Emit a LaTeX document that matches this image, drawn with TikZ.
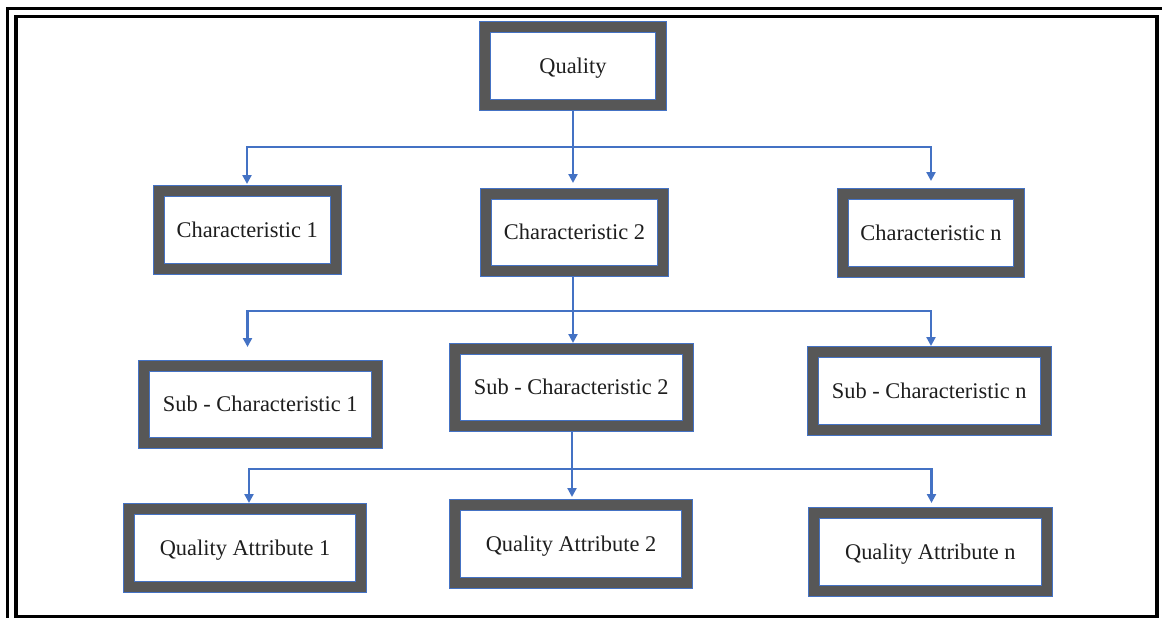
\documentclass[tikz,border=0pt]{standalone}
\usepackage{fontspec}
\setmainfont{Liberation Serif}
\usetikzlibrary{arrows.meta}

\definecolor{framegray}{HTML}{575757}
\definecolor{linkblue}{HTML}{4472C4}
\definecolor{inkgray}{HTML}{1E1E1E}

\tikzset{
  qbox/.style={draw=framegray, line width=11pt, fill=white, outer sep=5.5pt,
    inner sep=0pt, minimum height=77.5pt, text=inkgray,
    font=\fontsize{22.4pt}{26pt}\selectfont, text height=14.8pt, text depth=0pt},
  narrow/.style={minimum width=176.5pt},
  wide/.style={minimum width=232.5pt},
  rim/.style={draw=linkblue, line width=0.8pt},
  link/.style={draw=linkblue, line width=2.6pt},
  arr/.style={link, -{Triangle[width=9pt,length=9pt]}},
  frameline/.style={draw=black, line width=3.5pt},
}

% a framed box: style, name, x, y, text
\newcommand\qualitybox[5]{%
  \node[qbox,#1] (#2) at (#3,#4) {#5};
  \draw[rim] (#2.north west) rectangle (#2.south east);
  \draw[rim] ([shift={(11pt,-11pt)}]#2.north west) rectangle ([shift={(-11pt,11pt)}]#2.south east);
}

\begin{document}
\begin{tikzpicture}[x=1pt, y=-1pt]
  \useasboundingbox (0,0) rectangle (1162,618);

  % double page frame
  \draw[frameline] (7.5,640) -- (7.5,8.5) -- (1180,8.5);
  \draw[frameline] (15.8,16.5) rectangle (1157,617);

  % boxes
  \qualitybox{narrow}{q}{573}{65.9}{Quality}
  \qualitybox{narrow}{c1}{247.2}{230}{Characteristic 1}
  \qualitybox{narrow}{c2}{574.5}{232.2}{Characteristic 2}
  \qualitybox{narrow}{cn}{931}{232.8}{Characteristic n}
  \qualitybox{wide}{s1}{260.3}{404.2}{Sub - Characteristic 1}
  \qualitybox{wide}{s2}{571.2}{387.5}{Sub - Characteristic 2}
  \qualitybox{wide}{sn}{929.2}{390.8}{Sub - Characteristic n}
  \qualitybox{wide}{a1}{245}{548}{Quality Attribute 1}
  \qualitybox{wide}{a2}{571}{544}{Quality Attribute 2}
  \qualitybox{wide}{an}{930.3}{551.7}{Quality Attribute n}

  % junctions and arrow tips
  \coordinate (j1) at (573,147);
  \coordinate (t11) at (247,184);
  \coordinate (t12) at (573,183);
  \coordinate (t13) at (931,181);

  \coordinate (j2) at (573,311);
  \coordinate (t21) at (247.5,347);
  \coordinate (t22) at (573,343);
  \coordinate (t23) at (931,346);

  \coordinate (j3) at (572,469);
  \coordinate (t31) at (249,503);
  \coordinate (t32) at (572,497);
  \coordinate (t33) at (931.5,503);

  % Quality -> characteristics
  \draw[arr] (q.south -| j1) -- (t12);
  \draw[arr] (j1) -| (t11);
  \draw[arr] (j1) -| (t13);

  % Characteristic 2 -> sub-characteristics
  \draw[arr] (c2.south -| j2) -- (t22);
  \draw[arr] (j2) -| (t21);
  \draw[arr] (j2) -| (t23);

  % Sub-characteristic 2 -> quality attributes
  \draw[arr] (s2.south -| j3) -- (t32);
  \draw[arr] (j3) -| (t31);
  \draw[arr] (j3) -| (t33);
\end{tikzpicture}
\end{document}
